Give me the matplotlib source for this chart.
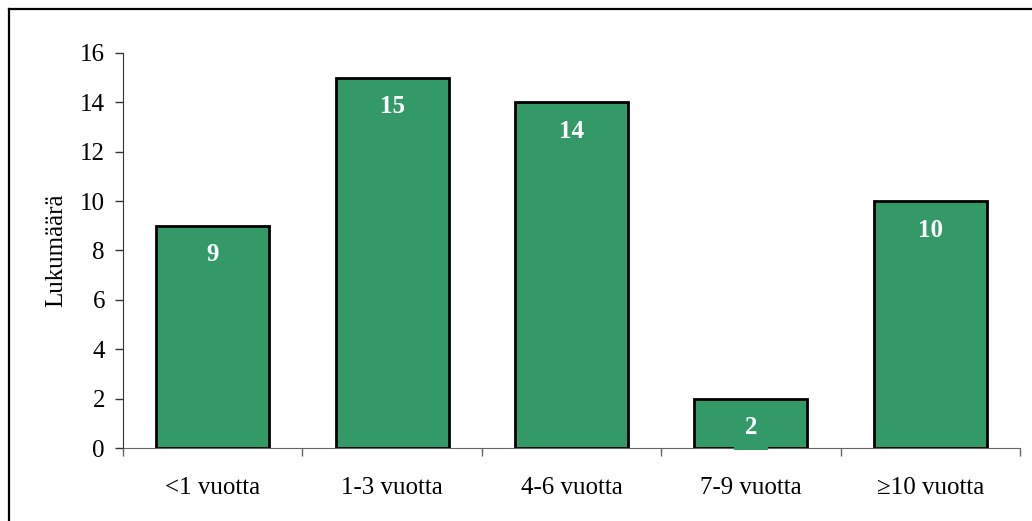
import matplotlib.pyplot as plt
from matplotlib.lines import Line2D

plt.rcParams['font.family'] = ['Liberation Serif', 'DejaVu Serif']

# years category and counts
categories = ['<1 vuotta', '1-3 vuotta', '4-6 vuotta', '7-9 vuotta', '\u226510 vuotta']
counts = [9, 15, 14, 2, 10]
y_ticks = [0, 2, 4, 6, 8, 10, 12, 14, 16]

green = '#339966'
fs = 18

fig = plt.figure(figsize=(10.32, 5.21), dpi=100)
ax = fig.add_axes([0.1192, 0.1401, 0.8692, 0.7582])

x = list(range(len(categories)))
ax.bar(x, counts, width=0.63, color=green, edgecolor='black', linewidth=2, zorder=2)

# value labels inside the top of each bar
for xi, c in zip(x, counts):
    ax.annotate(str(c), (xi, c), xytext=(0, -21), textcoords='offset points',
                ha='center', va='center', color='white', fontsize=fs, fontweight='bold',
                bbox=dict(boxstyle='square,pad=0.42', facecolor=green, edgecolor='none'),
                zorder=4, annotation_clip=False)

ax.set_xlim(-0.5, len(categories) - 0.5)
ax.set_ylim(0, 16)
ax.set_yticks(y_ticks)
ax.tick_params(axis='y', labelsize=fs, length=6, width=1, pad=7, color='#333333')

# category labels in the middle, tick marks at the boundaries
ax.set_xticks(x)
ax.set_xticklabels(categories, fontsize=fs)
ax.tick_params(axis='x', which='major', length=0, pad=21)
ax.set_xticks([i - 0.5 for i in range(len(categories) + 1)], minor=True)
ax.tick_params(axis='x', which='minor', length=6, width=1, color='#666666')

ax.set_ylabel('Lukumäärä', fontsize=fs, labelpad=9)

for side in ['top', 'right']:
    ax.spines[side].set_visible(False)
ax.spines['left'].set_color('#333333')
ax.spines['bottom'].set_color('#666666')
ax.spines['left'].set_zorder(1)
ax.spines['bottom'].set_zorder(1)

# outer frame (top and left edges)
fig.add_artist(Line2D([9 / 1032, 1.0], [1 - 9 / 521, 1 - 9 / 521], color='black', lw=1.6,
                      transform=fig.transFigure))
fig.add_artist(Line2D([9 / 1032, 9 / 1032], [0.0, 1 - 9 / 521], color='black', lw=1.6,
                      transform=fig.transFigure))

fig.savefig('out.png', dpi=100)
